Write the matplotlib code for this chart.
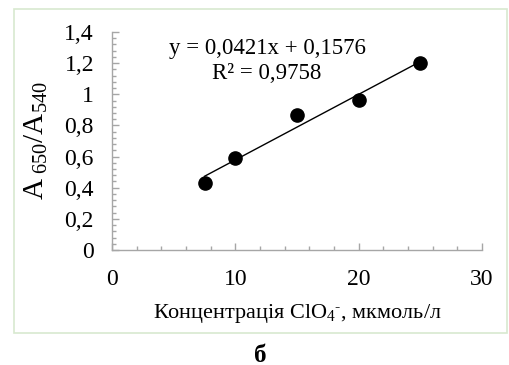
import matplotlib
matplotlib.use("Agg")
import matplotlib.pyplot as plt
from matplotlib.ticker import MultipleLocator, FixedLocator, FixedFormatter
from matplotlib.patches import Rectangle
import numpy as np

plt.rcParams['font.family'] = ['Liberation Serif', 'DejaVu Serif']
plt.rcParams['mathtext.fontset'] = 'custom'
plt.rcParams['mathtext.rm'] = 'Liberation Serif'
plt.rcParams['mathtext.it'] = 'Liberation Serif'
plt.rcParams['mathtext.default'] = 'regular'

# data
conc = [7.5, 10, 15, 20, 25]
ratio = [0.43, 0.59, 0.865, 0.965, 1.2]
slope, intercept = 0.0421, 0.1576
eq_text = "y = 0,0421x + 0,1576\nR² = 0,9758"
y_ticks = [0, 0.2, 0.4, 0.6, 0.8, 1.0, 1.2, 1.4]
y_tick_labels = ["0", "0,2", "0,4", "0,6", "0,8", "1", "1,2", "1,4"]
x_ticks = [0, 10, 20, 30]
x_tick_labels = ["0", "10", "20", "30"]
xlabel = "Концентрація ClO$_{4}{}^{\\text{-}}$, мкмоль/л"
ylabel = "A$_{\\ 650}$/A$_{540}$"
caption = "б"

W, H = 509, 365
fig = plt.figure(figsize=(W / 100, H / 100), dpi=100)
fig.patch.set_facecolor('white')

# frame
fig.patches.append(Rectangle((14 / W, 1 - 333 / H), (507 - 14) / W, (333 - 9) / H,
                             transform=fig.transFigure, fill=False,
                             edgecolor='#d8e9cf', linewidth=1.2))

ax = fig.add_axes([112 / W, 1 - 250 / H, (482 - 112) / W, (250 - 32) / H])
ax.set_xlim(0, 30)
ax.set_ylim(0, 1.4)

xx = np.array([conc[0], conc[-1]])
ax.plot(xx, slope * xx + intercept, color='black', linewidth=1.0, zorder=2)
ax.plot(conc, ratio, 'o', color='black', markersize=9.5, zorder=3, clip_on=False)

for s in ['top', 'right']:
    ax.spines[s].set_visible(False)
for s in ['left', 'bottom']:
    ax.spines[s].set_color('#a6a6a6')
    ax.spines[s].set_linewidth(1.0)

ax.yaxis.set_major_locator(FixedLocator(y_ticks))
ax.yaxis.set_major_formatter(FixedFormatter(y_tick_labels))
ax.yaxis.set_minor_locator(MultipleLocator(0.04))
ax.xaxis.set_major_locator(FixedLocator(x_ticks))
ax.xaxis.set_major_formatter(FixedFormatter(x_tick_labels))
ax.xaxis.set_minor_locator(MultipleLocator(2))

ax.tick_params(axis='both', which='major', direction='in', length=5, width=1,
               color='#a6a6a6', labelsize=17)
ax.tick_params(axis='both', which='minor', direction='in', length=3, width=1,
               color='#a6a6a6')
ax.tick_params(axis='y', which='major', pad=13)
ax.tick_params(axis='x', which='major', pad=14)

ax.set_xlabel(xlabel, fontsize=16, labelpad=8)
ax.set_ylabel(ylabel, fontsize=21, labelpad=10)

fig.text(267 / W, 1 - 61 / H, eq_text, ha='center', va='center', fontsize=16.5,
         linespacing=1.2)
fig.text(260 / W, 1 - 355 / H, caption, ha='center', va='center', fontsize=18,
         fontweight='bold')

fig.savefig('out.png', dpi=100, facecolor='white')
